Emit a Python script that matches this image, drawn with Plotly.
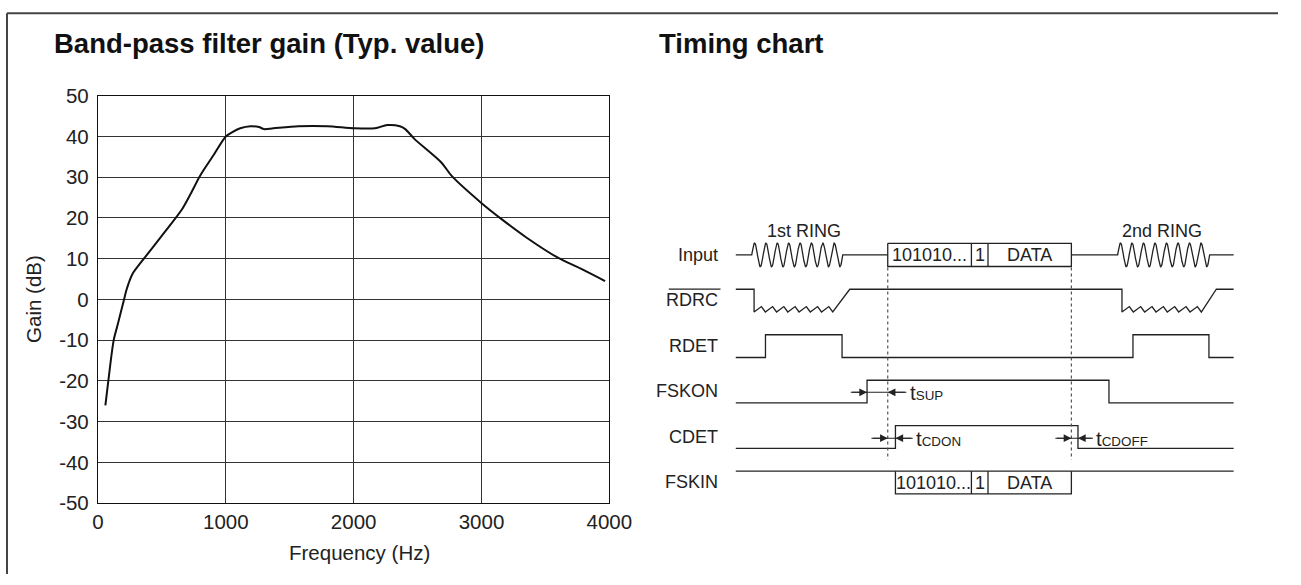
import numpy as np
import plotly.graph_objects as go

# ---------------- Band-pass filter gain data ----------------
freq_hz = [58, 81, 123, 156, 204, 221, 237, 269, 367, 529, 659, 723, 798, 902, 1000,
           1048, 1113, 1194, 1259, 1298, 1372, 1567, 1794, 2005, 2167, 2264, 2362, 2404,
           2475, 2686, 2767, 2994, 3157, 3351, 3594, 3773, 3967]
gain_db = [-26, -20, -10, -6, 0, 2.1, 3.7, 6.2, 10.3, 16.8, 22.2, 25.8, 30.3, 35.3, 40.0,
           41.0, 42.0, 42.5, 42.3, 41.8, 42.0, 42.5, 42.5, 42.0, 42.0, 42.8, 42.5, 41.8,
           39.4, 33.6, 30.3, 23.8, 19.7, 15.2, 10.3, 7.6, 4.5]
x_ticks = [0, 1000, 2000, 3000, 4000]
y_ticks = [50, 40, 30, 20, 10, 0, -10, -20, -30, -40, -50]
y_tick_text = ["50", "40", "30", "20", "10", "0", "-10", "-20", "-30", "-40", "-50"]

# ---------------- Timing chart data (time units, rows) ----------------
signal_names = ["Input", "RDRC", "RDET", "FSKON", "CDET", "FSKIN"]
t_end = 498
ring1 = [16, 107]
ring2 = [382, 474]
ring_cycles = 8
data_box_input = [152, 235.7, 252.3, 335.7]      # start, divider1, divider2, end
data_box_fskin = [159.7, 235.7, 252.3, 335.7]
box_texts = ["101010...", "1", "DATA"]
rdrc_low_spans = [[18.3, 97, 114], [386.3, 465.7, 480.7]]  # drop, teeth end, back high
rdrc_teeth = 7
rdet_edges = [0, 29.7, 106.3, 397.3, 473.3, t_end]
rdet_levels = [0, 1, 0, 1, 0]
fskon_edges = [0, 131.3, 373.3, t_end]
fskon_levels = [0, 1, 0]
cdet_edges = [0, 159.7, 342.3, t_end]
cdet_levels = [0, 1, 0]
marker_times = [152, 335.7]
# timing intervals: (row, tail_left, tip_left, tip_right, tail_right, label)
intervals = [
    (3.02, 115, 131.3, 152, 170.7, "t<span style='font-size:13.4px'>SUP</span>"),
    (4.03, 135.7, 152, 159.7, 177, "t<span style='font-size:13.4px'>CDON</span>"),
    (4.03, 319.7, 335.7, 342.3, 357.3, "t<span style='font-size:13.4px'>CDOFF</span>"),
]

# ---------------- page geometry (photo of the page is slightly inset/scaled) ----------------
W, H = 1301, 585
SX, OX = 0.978, 6.0
SY, OY = 0.961, 11.0


def px(X):   # target picture x -> paper fraction
    return (X - OX) / SX / W


def py(Y):   # target picture y -> paper fraction (from bottom)
    return 1 - (Y - OY) / SY / H


HI, LO = -0.245, 0.255
LINE = "#222"
FONT = "Liberation Sans, Arial, sans-serif"
FS_T = 18  # timing text size

fig = go.Figure()

fig.add_trace(go.Scatter(x=freq_hz, y=gain_db, mode="lines",
                         line=dict(color="#111", width=2, shape="spline", smoothing=0.8),
                         xaxis="x", yaxis="y", hoverinfo="skip"))


def add_line(xs, ys, dash=None, color=LINE, width=1.3):
    fig.add_trace(go.Scatter(x=xs, y=ys, mode="lines", xaxis="x2", yaxis="y2",
                             line=dict(color=color, width=width, dash=dash),
                             hoverinfo="skip"))


def step(edges, levels, row):
    xs, ys = [], []
    for i, lv in enumerate(levels):
        y = row + (HI if lv else LO)
        xs += [edges[i], edges[i + 1]]
        ys += [y, y]
    return xs, ys


def sine(span, row):
    u = np.linspace(0, 1, 240)
    return list(span[0] + u * (span[1] - span[0])), list(row - 0.26 * np.sin(2 * np.pi * ring_cycles * u))


def box(b, row, top, bottom, with_top=True):
    x0, d1, d2, x1 = b
    if with_top:
        add_line([x0, x0, x1, x1, x0], [row + top, row + bottom, row + bottom, row + top, row + top])
    else:
        add_line([x0, x0, x1, x1], [row + top, row + bottom, row + bottom, row + top])
    for d in (d1, d2):
        add_line([d, d], [row + top, row + bottom])
    centers = [(x0 + d1) / 2, (d1 + d2) / 2, (d2 + x1) / 2]
    for c, t in zip(centers, box_texts):
        fig.add_annotation(x=c, y=row + (top + bottom) / 2, xref="x2", yref="y2", text=t,
                           showarrow=False, font=dict(size=FS_T, color=LINE, family=FONT))


# Input row (0)
r = 0
sx1, sy1 = sine(ring1, r)
sx2, sy2 = sine(ring2, r)
add_line([0] + sx1 + [data_box_input[0]], [r] + sy1 + [r])
box(data_box_input, r, -0.255, 0.255)
add_line([data_box_input[3]] + sx2 + [t_end], [r] + sy2 + [r])

# RDRC row (1)
r = 1
xs, ys = [0], [r + HI]
for drop, teeth_end, back in rdrc_low_spans:
    xs += [drop, drop]
    ys += [r + HI, r + LO]
    p = (teeth_end - drop) / rdrc_teeth
    for k in range(rdrc_teeth):
        x0 = drop + k * p
        xs += [x0 + 0.65 * p, x0 + p]
        ys += [r + LO - 0.12, r + LO]
    xs += [back]
    ys += [r + HI]
xs += [t_end]
ys += [r + HI]
add_line(xs, ys)

# RDET, FSKON, CDET
for row, edges, levels in [(2, rdet_edges, rdet_levels), (3, fskon_edges, fskon_levels),
                           (4, cdet_edges, cdet_levels)]:
    xs, ys = step(edges, levels, row)
    add_line(xs, ys)

# FSKIN row (5)
r = 5
add_line([0, t_end], [r + HI, r + HI])
box(data_box_fskin, r, HI, LO, with_top=False)

# dotted markers
for t in marker_times:
    add_line([t, t], [0.279, 4.505], dash="dot", color="#555", width=1.2)

# interval arrows
for row, tl, tipl, tipr, tr, lab in intervals:
    add_line([tl, tr], [row, row], width=1.1)
    for tip, tail in ((tipl, tl), (tipr, tr)):
        fig.add_annotation(x=tip, y=row, ax=tail, ay=row, xref="x2", yref="y2", axref="x2",
                           ayref="y2", text="", showarrow=True, arrowhead=2, arrowsize=1.4,
                           arrowwidth=1.1, arrowcolor=LINE)
    fig.add_annotation(x=tr + 1.5, y=row, xref="x2", yref="y2", text=lab, xanchor="left",
                       showarrow=False, font=dict(size=20.5, color=LINE, family=FONT))

# signal labels
for i, name in enumerate(signal_names):
    fig.add_annotation(x=-15.3, y=i, xref="x2", yref="y2", text=name, xanchor="right",
                       showarrow=False, font=dict(size=FS_T, color=LINE, family=FONT))
# overline of RDRC
fig.add_shape(type="line", x0=-67, x1=-15.3, y0=1 - 0.25, y1=1 - 0.25, xref="x2", yref="y2",
              line=dict(color=LINE, width=1.2))

# ring labels
fig.add_annotation(x=sum(ring1) / 2 + 7, y=-0.527, xref="x2", yref="y2", text="1st RING",
                   showarrow=False, font=dict(size=FS_T, color=LINE, family=FONT))
fig.add_annotation(x=sum(ring2) / 2 - 2, y=-0.527, xref="x2", yref="y2", text="2nd RING",
                   showarrow=False, font=dict(size=FS_T, color=LINE, family=FONT))

# ---------------- titles / axis titles ----------------
fig.add_annotation(x=px(52), y=py(43), xref="paper", yref="paper", xanchor="left",
                   yanchor="middle", text="<b>Band-pass filter gain (Typ. value)</b>", showarrow=False,
                   font=dict(size=27.5, color="#111", family=FONT))
fig.add_annotation(x=px(657.3), y=py(43), xref="paper", yref="paper", xanchor="left",
                   yanchor="middle", text="<b>Timing chart</b>", showarrow=False,
                   font=dict(size=27.5, color="#111", family=FONT))
fig.add_annotation(x=px(360), y=py(551.7), xref="paper", yref="paper",
                   xanchor="center", yanchor="middle",
                   text="Frequency (Hz)", showarrow=False, font=dict(size=20.5, color="#222", family=FONT))
fig.add_annotation(x=px(34), y=py(298), xref="paper", yref="paper", textangle=-90,
                   xanchor="center", yanchor="middle",
                   text="Gain (dB)", showarrow=False, font=dict(size=20.5, color="#222", family=FONT))

# frame lines (top and left)
fig.add_shape(type="line", x0=px(7), x1=1, y0=py(12.3), y1=py(12.3),
              xref="paper", yref="paper", line=dict(color="#444", width=2))
fig.add_shape(type="line", x0=px(7), x1=px(7), y0=0, y1=py(12.3),
              xref="paper", yref="paper", line=dict(color="#444", width=2))

# timing axis mapping: 1 time unit = 1 picture px, t=0 at picture x=736; rows every 45.5 px
d0 = 0.5
span_fig = (1 - d0) * W
t0 = d0 * W * SX + OX - 736
t1 = t0 + span_fig * SX
row_px = 45.5 / SY
row0_fig = (254 - OY) / SY
r_top = -row0_fig / row_px
r_bot = (H - row0_fig) / row_px

fig.update_layout(
    width=W, height=H, margin=dict(l=0, r=0, t=0, b=0),
    paper_bgcolor="white", plot_bgcolor="white", showlegend=False,
    font=dict(family=FONT, color="#222"),
    xaxis=dict(domain=[px(98), px(609.5)], range=[0, 4000], tickvals=x_ticks,
               showgrid=True, gridcolor="#333", gridwidth=1, showline=True, linecolor="#111",
               linewidth=1.2, mirror=True, zeroline=False, ticks="", ticklabelstandoff=0,
               tickfont=dict(size=20.5, color="#222"), fixedrange=True),
    yaxis=dict(domain=[py(502.3), py(94.7)], range=[-50, 50], tickvals=y_ticks,
               ticktext=y_tick_text,
               showgrid=True, gridcolor="#333", gridwidth=1, showline=True, linecolor="#111",
               linewidth=1.2, mirror=True, zeroline=False, ticks="", ticklabelstandoff=4,
               tickfont=dict(size=20.5, color="#222"), fixedrange=True),
    xaxis2=dict(domain=[d0, 1], range=[t0, t1], visible=False, anchor="y2"),
    yaxis2=dict(domain=[0, 1], range=[r_bot, r_top], visible=False, anchor="x2"),
)

fig.write_html("out.html")
